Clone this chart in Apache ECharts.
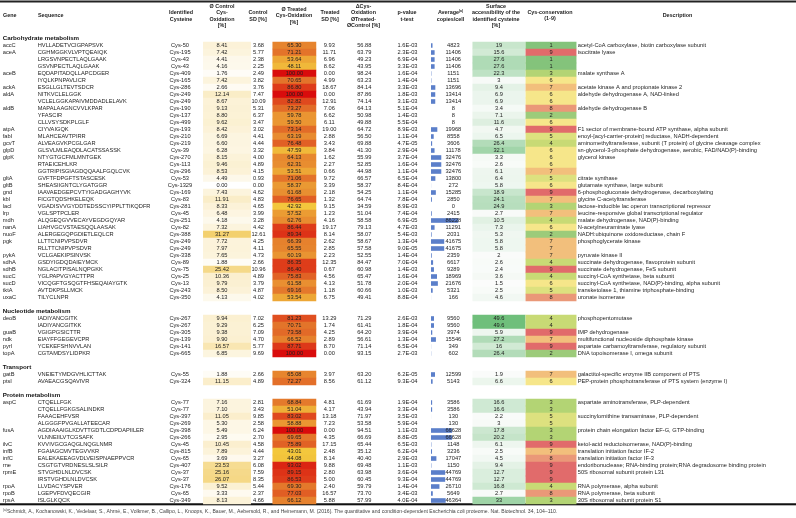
<!DOCTYPE html>
<html><head><meta charset="utf-8">
<script src="https://cdn.jsdelivr.net/npm/echarts@6/dist/echarts.min.js"></script>
<style>html,body{margin:0;padding:0;background:#fff}#c{width:796px;height:518px}</style>
</head><body><div id="c"></div>
<script>
// ---------------- DATA ----------------
const sections = ['Carbohydrate metabolism', 'Nucleotide metabolism', 'Transport', 'Protein metabolism'];
const sectionSizes = [37, 6, 2, 15];
const genes = ['accC','aceA','','','aceB','','ackA','aldA','','aldB','','','atpA','fabI','gcvT','glpD','glpK','','','gltA','gltB','gnd','kbl','lacI','lrp','mdh','nanA','nuoF','pgk','','pykA','sdhA','sdhB','sucC','sucD','tktA','uxaC',
  'deoB','','guaB','ndk','pyrI','topA',
  'gatB','ptsI',
  'aspC','','','','fusA','','ilvC','infB','infC','rne','rpmE','','rpoA','rpoB','rpsA'];
const sequences = ['HVLLADETVCIGPAPSVK','CGHMGGKVLVPTQEAIQK','LRGSVNPECTLAQLGAAK','GSVNPECTLAQLGAAK','EQDAPITADQLLAPCDGER','IYQLKPNPAVLICR','ESGLLGLTEVTSDCR','NITKVCLELGGK','VCLELGGKAPAIVMDDADLELAVK','MAPALAAGNCVVLKPAR','YFASCIR','CLLVSYSDKPLGLF','CIYVAIGQK','MLAHCEAVTPIRR','ALVEAGVKPCGLGAR','GLSVLMLEAQDLACATSSASSK','NTYGTGCFMLMNTGEK','RTAEICEHLKR','GGTRIPISGIAGDQQAALFGQLCVK','GVFTFDPGFTSTASCESK','SHEASIIGNTCLYGATGGR','IAAVAEDGEPCVTYIGADGAGHYVK','FICGTQDSHKELEQK','VGADISVVGYDDTEDSSCYIPPLTTIKQDFR','VGLSPTPCLER','ALQGEQGVVECAYVEGDGQYAR','LIAHVGCVSTAESQQLAASAK','ALERGEGQPGDIETLEQLCR','LLTTCNIPVPSDVR','RLLTTCNIPVPSDVR','VCLGAEKIPSINVSK','GSDYIGDQDAIEYMCK','NGLACITPISALNQPGKK','YGLPAPVGYACTTPR','VICQGFTGSQGTFHSEQAIAYGTK','AVTDKPSLLMCK','TILYCLNPR',
  'IADIYANCGITK','IADIYANCGITKK','VGIGPGSICTTR','EIAYFFGEGEVCPR','YCEKEFSHNVVLAN','CGTAMDSYLIDPKR',
  'VNEIETYMDGVHLICTTAK','AVAEACGSQAVIVR',
  'CTQELLFGK','CTQELLFGKGSALINDKR','FAAACEHFVSR','ALGGGFPVGALLATEECAR','AGDIAAAIGLKDVTTGDTLCDPDAPIILER','VLNNEIILVTCGSAFK','KVVIVGCGAQGLNQGLNMR','FGAIAGCMVTEGVVKR','EALEKAEEAGVDLVEISPNAEPPVCR','CSGTGTVRDNESLSLSILR','STVGHDLNLDVCSK','IRSTVGHDLNLDVCSK','LLVDACYSPVER','LGEPVFDVQECGIR','ISLGLKQCK'];
const cysteines = ['Cys-50','Cys-195','Cys-43','Cys-43','Cys-409','Cys-165','Cys-286','Cys-249','Cys-249','Cys-190','Cys-137','Cys-499','Cys-193','Cys-210','Cys-219','Cys-39','Cys-270','Cys-113','Cys-296','Cys-53','Cys-1329','Cys-169','Cys-83','Cys-281','Cys-45','Cys-251','Cys-82','Cys-388','Cys-249','Cys-249','Cys-338','Cys-89','Cys-75','Cys-25','Cys-13','Cys-243','Cys-350',
  'Cys-267','Cys-267','Cys-305','Cys-139','Cys-141','Cys-665',
  'Cys-55','Cys-324',
  'Cys-77','Cys-77','Cys-397','Cys-269','Cys-398','Cys-266','Cys-45','Cys-815','Cys-65','Cys-407','Cys-37','Cys-37','Cys-176','Cys-65','Cys-349'];
const ctrlOx = [8.41,7.42,4.41,4.16,1.76,7.42,2.66,12.14,8.67,9.13,8.80,9.62,8.42,6.69,6.60,6.28,8.15,9.46,8.53,4.49,0.00,7.43,11.91,8.33,6.48,4.18,7.32,31.27,7.72,7.97,7.65,1.88,25.42,10.36,9.79,8.50,4.13,
  9.94,9.29,9.38,9.90,16.57,6.85,
  1.88,11.15,
  7.16,7.10,11.05,5.30,5.49,2.95,10.45,7.89,3.69,23.53,25.16,26.07,9.52,3.33,8.13];
const ctrlSD = [3.68,5.77,2.38,2.25,2.49,3.82,3.76,7.47,10.09,5.31,6.37,3.47,3.02,4.41,4.44,3.32,4.00,4.89,4.15,0.93,0.00,4.62,4.83,4.65,3.99,3.28,4.42,12.61,4.25,4.11,4.73,2.66,10.96,4.89,3.79,4.87,4.02,
  7.02,6.25,7.09,4.70,5.77,9.69,
  2.66,4.89,
  2.81,3.43,9.85,2.58,6.24,2.70,4.58,4.44,3.27,6.08,7.59,8.35,5.44,2.37,4.66];
const treatedOx = [65.30,71.21,53.64,48.11,100.00,70.65,86.80,100.00,82.82,73.27,59.78,59.50,73.14,63.19,76.48,47.59,64.13,62.31,53.51,71.06,58.37,61.68,76.65,42.92,57.52,62.76,86.44,89.34,66.39,65.55,60.19,86.35,86.40,75.83,61.58,69.16,53.54,
  81.23,70.71,73.58,66.52,87.71,100.00,
  65.08,72.27,
  68.84,51.04,83.02,58.88,100.00,69.65,75.89,43.01,44.08,93.02,89.15,86.53,69.30,77.03,66.12];
const treatedSD = [9.93,11.71,6.96,8.62,0.00,4.99,18.67,0.00,12.91,7.06,6.62,6.11,19.00,2.88,3.43,3.84,1.62,2.27,0.66,9.72,3.39,2.18,1.32,9.15,1.23,4.16,19.17,8.14,2.62,2.85,2.23,12.35,0.67,4.56,4.13,1.18,6.75,
  13.29,1.74,4.25,2.89,8.70,0.00,
  3.97,8.56,
  4.81,4.17,13.18,7.23,0.00,4.35,17.15,2.48,8.14,9.88,2.80,5.00,2.40,16.57,5.88];
const deltaOx = [56.88,63.79,49.23,43.95,98.24,63.23,84.14,87.86,74.14,64.13,50.98,49.88,64.72,56.50,69.88,41.30,55.99,52.85,44.98,66.57,58.37,54.25,64.74,34.59,51.04,58.58,79.13,58.07,58.67,57.58,52.55,84.47,60.98,65.47,51.78,60.66,49.41,
  71.29,61.41,64.20,56.61,71.14,93.15,
  63.20,61.12,
  61.69,43.94,71.97,53.58,94.51,66.69,65.44,35.12,40.40,69.48,63.98,60.45,59.79,73.70,57.99];
const pValues = ['1.6E-03','2.3E-03','6.9E-04','3.3E-03','1.6E-04','1.4E-04','3.3E-03','1.8E-03','3.1E-03','5.1E-04','1.4E-03','5.5E-04','8.9E-03','1.1E-04','4.7E-05','2.9E-04','3.7E-04','1.6E-04','1.1E-04','6.5E-04','8.4E-04','1.1E-04','7.8E-04','8.9E-03','7.4E-04','6.9E-05','4.7E-03','5.4E-03','1.3E-04','9.0E-05','1.4E-04','7.0E-04','1.4E-03','1.6E-04','2.0E-04','1.0E-03','8.8E-04',
  '2.6E-03','1.8E-04','3.9E-04','1.3E-04','6.5E-04','2.7E-03',
  '6.2E-05','9.3E-04',
  '1.9E-04','3.3E-04','3.5E-03','5.9E-04','1.1E-03','8.8E-05','6.5E-03','6.2E-04','2.9E-03','1.1E-03','3.6E-04','9.3E-04','1.4E-04','3.4E-03','4.0E-04'];
const copies = [4823,11406,11406,11406,1151,1151,13696,13414,13414,8,8,8,19968,8558,3606,11178,32476,32476,32476,13800,272,15285,2850,0,2415,86228,11291,2031,41675,41675,2359,6617,9289,18969,21676,5321,166,
  9560,9560,3974,15546,349,602,
  12599,5143,
  3586,3586,130,130,66628,66628,1148,3236,17047,1150,44769,44769,26710,5649,46364];
const surface = [19,15.6,27.6,27.6,22.3,3,9.4,6.9,6.9,3.4,7.1,11.6,4.7,6.5,26.4,32.1,3.3,2.6,6.1,6.4,5.8,18.9,24.1,24.9,2.7,10.5,7.3,5.3,5.8,5.8,2,2.6,2.4,3.6,1.5,2.5,4.6,
  49.6,49.6,5.9,27.2,16,26.4,
  1.9,6.6,
  16.6,16.6,2.2,3,17.8,20.2,6.1,2.5,4.5,9.4,12.7,12.7,16.8,2.7,33];
const conservation = [1,9,1,1,3,6,7,6,6,8,2,6,9,5,4,6,6,6,7,5,6,9,7,3,7,4,6,2,7,7,7,4,9,4,6,5,8,
  4,4,9,7,9,2,
  7,6,
  3,3,5,5,3,3,9,7,8,9,9,9,4,8,3];
const descriptions = ['acetyl-CoA carboxylase, biotin carboxylase subunit','isocitrate lyase','','','malate synthase A','','acetate kinase A and propionate kinase 2','aldehyde dehydrogenase A, NAD-linked','','aldehyde dehydrogenase B','','','F1 sector of membrane-bound ATP synthase, alpha subunit','enoyl-[acyl-carrier-protein] reductase, NADH-dependent','aminomethyltransferase, subunit (T protein) of glycine cleavage complex','sn-glycerol-3-phosphate dehydrogenase, aerobic, FAD/NAD(P)-binding','glycerol kinase','','','citrate synthase','glutamate synthase, large subunit','6-phosphogluconate dehydrogenase, decarboxylating','glycine C-acetyltransferase','lactose-inducible lac operon transcriptional repressor','leucine-responsive global transcriptional regulator','malate dehydrogenase, NAD(P)-binding','N-acetylneuraminate lyase','NADH:ubiquinone oxidoreductase, chain F','phosphoglycerate kinase','','pyruvate kinase II','succinate dehydrogenase, flavoprotein subunit','succinate dehydrogenase, FeS subunit','succinyl-CoA synthetase, beta subunit','succinyl-CoA synthetase, NAD(P)-binding, alpha subunit','transketolase 1, thiamine triphosphate-binding','uronate isomerase',
  'phosphopentomutase','','IMP dehydrogenase','multifunctional nucleoside diphosphate kinase','aspartate carbamoyltransferase, regulatory subunit','DNA topoisomerase I, omega subunit',
  'galactitol-specific enzyme IIB component of PTS','PEP-protein phosphotransferase of PTS system (enzyme I)',
  'aspartate aminotransferase, PLP-dependent','','succinylornithine transaminase, PLP-dependent','','protein chain elongation factor EF-G, GTP-binding','','ketol-acid reductoisomerase, NAD(P)-binding','translation initiation factor IF-2','translation initiation factor IF-3','endoribonuclease; RNA-binding protein;RNA degradosome binding protein','50S ribosomal subunit protein L31','','RNA polymerase, alpha subunit','RNA polymerase, beta subunit','30S ribosomal subunit protein S1'];
const footnote = 'Schmidt, A., Kochanowski, K., Vedelaar, S., Ahrné, E., Volkmer, B., Callipo, L., Knoops, K., Bauer, M., Aebersold, R., and Heinemann, M. (2016). The quantitative and condition-dependent Escherichia coli proteome. Nat. Biotechnol. 34, 104–110.';

// ---------------- LAYOUT ----------------
const FONT = "'Liberation Sans', Arial, sans-serif";
const L = {
  top: 35, rowH: 7,
  gene: [3, 30], seq: [38, 125], cys: [165, 30],
  ctrl: [203.3, 47.4], ctrlTxt: [210, 24], ctrlSD: [251, 15],
  treated: [272.7, 43.3], treatedSD: [320, 18.7], delta: [350, 28.6],
  pval: [394, 27], copiesBar: [431, 28.5], copiesTxt: [441, 24.6],
  surface: [472.7, 52.5], cons: [525.8, 50.4], desc: [578, 215]
};
const DATA_FS = 5.7, TXT = '#1e1e1e';

// build row indices (section header + blank separators)
const rowOf = [], sectionRow = [];
let r = 0;
sectionSizes.forEach((n, s) => {
  if (s > 0) r++;
  sectionRow.push(r); r++;
  for (let k = 0; k < n; k++) { rowOf.push(r); r++; }
});
const nRows = r;
const rowCats = Array.from({length: nRows}, (_, i) => 'r' + i);

const grids = [], xAxes = [], yAxes = [], series = [], visualMaps = [];
function addGrid(col, valueAxisMax) {
  const gi = grids.length;
  grids.push({left: col[0], width: col[1], top: L.top, height: nRows * L.rowH});
  if (valueAxisMax) xAxes.push({gridIndex: gi, type: 'value', min: 0, max: valueAxisMax, show: false});
  else xAxes.push({gridIndex: gi, type: 'category', data: ['c'], show: false});
  yAxes.push({gridIndex: gi, type: 'category', data: rowCats, inverse: true, show: false});
  return gi;
}
function textCol(col, texts, align, extra) {
  const gi = addGrid(col);
  series.push(Object.assign({
    type: 'heatmap', xAxisIndex: gi, yAxisIndex: gi, silent: true,
    data: texts.map((t, i) => [0, rowOf[i], i]),
    itemStyle: {color: 'rgba(0,0,0,0)'},
    label: {show: true, position: align === 'left' ? 'insideLeft' : 'inside', distance: 0,
      color: TXT, fontSize: DATA_FS, fontFamily: FONT,
      formatter: p => texts[p.dataIndex]}
  }, extra || {}));
}
function colorCol(col, values, fmt, vmin, vmax, colors, showLabel) {
  const gi = addGrid(col);
  const si = series.length;
  series.push({
    type: 'heatmap', xAxisIndex: gi, yAxisIndex: gi, silent: true,
    data: values.map((v, i) => [0, rowOf[i], v]),
    label: {show: showLabel, position: 'inside', color: TXT, fontSize: DATA_FS, fontFamily: FONT,
      formatter: p => fmt(p.value[2])}
  });
  visualMaps.push({type: 'continuous', show: false, seriesIndex: si, dimension: 2,
    min: vmin, max: vmax, inRange: {color: colors}});
}
const f2 = v => v.toFixed(2);

// section headers
(function () {
  const gi = addGrid(L.gene);
  series.push({type: 'heatmap', xAxisIndex: gi, yAxisIndex: gi, silent: true,
    data: sections.map((s, i) => [0, sectionRow[i], i]),
    itemStyle: {color: 'rgba(0,0,0,0)'},
    label: {show: true, position: 'insideLeft', distance: 0, color: '#111', fontSize: 6.2,
      fontWeight: 'bold', fontFamily: FONT, formatter: p => sections[p.dataIndex]}});
})();
textCol(L.gene, genes, 'left');
textCol(L.seq, sequences, 'left');
textCol(L.cys, cysteines, 'center');
colorCol(L.ctrl, ctrlOx, f2, 0, 31.27, ['#ffffff', '#f3d06e'], false);
textCol(L.ctrlTxt, ctrlOx.map(f2), 'center');
textCol(L.ctrlSD, ctrlSD.map(f2), 'center');
colorCol(L.treated, treatedOx, f2, 42.92, 100, ['#f3c73d', '#e3722a', '#d90c0c'], true);
textCol(L.treatedSD, treatedSD.map(f2), 'center');
textCol(L.delta, deltaOx.map(f2), 'center');
textCol(L.pval, pValues, 'center');
(function () {
  const gi = addGrid(L.copiesBar, 90000);
  const barData = new Array(nRows).fill('-');
  copies.forEach((v, i) => { barData[rowOf[i]] = v; });
  series.push({type: 'bar', xAxisIndex: gi, yAxisIndex: gi, silent: true, data: barData,
    barWidth: 4.6, itemStyle: {color: '#5b7fca'}});
})();
textCol(L.copiesTxt, copies.map(String), 'center');
colorCol(L.surface, surface, v => String(v), 1.5, 49.6, ['#fbfcfb', '#6fbf7b'], true);
colorCol(L.cons, conservation, v => String(v), 1, 9,
  ['#84c37b', '#9ccb7a', '#b3d474', '#c8da75', '#dde17f', '#f6e68a', '#f2bf7c', '#ea9878', '#e16b6b'], true);
textCol(L.desc, descriptions, 'left');

// ---------------- HEADER / RULES / FOOTNOTE ----------------
const HF = 5.4;
function hdr(x, text, align, y) {
  return {type: 'text', x: x, y: y || 16, silent: true, z: 10,
    style: {text: text, align: align || 'center', verticalAlign: 'middle', fill: '#222',
      fontSize: HF, fontWeight: 'bold', fontFamily: FONT, lineHeight: 6.6,
      rich: {sup: {fontSize: 3.4, fontWeight: 'bold', verticalAlign: 'top', fill: '#222'},
             n: {fontSize: HF, fontWeight: 'bold', fill: '#222'}}}};
}
const graphic = [
  {type: 'rect', shape: {x: 0, y: 0.6, width: 796, height: 2}, style: {fill: '#222'}, silent: true},
  {type: 'rect', shape: {x: 0, y: 503.3, width: 796, height: 1.6}, style: {fill: '#111'}, silent: true},
  {type: 'rect', shape: {x: 0, y: 505.5, width: 796, height: 0.6}, style: {fill: '#666'}, silent: true},
  hdr(3, 'Gene', 'left', 15.6),
  hdr(38, 'Sequence', 'left', 15.6),
  hdr(181, 'Identified\nCysteine'),
  hdr(222, 'Ø Control\nCys-\nOxidation\n[%]'),
  hdr(258, 'Control\nSD [%]'),
  hdr(294, 'Ø Treated\nCys-Oxidation\n[%]'),
  hdr(330, 'Treated\nSD [%]'),
  hdr(363.5, 'ΔCys-\nOxidation\nØTreated-\nØControl [%]'),
  hdr(407, 'p-value\nt-test'),
  hdr(450.5, '{n|Average}{sup|(a)}\n{n|copies/cell}'),
  hdr(496, 'Surface\naccessibility of the\nidentified cysteine\n[%]'),
  hdr(550, 'Cys-conservation\n(1-9)', 'center', 15.7),
  hdr(677.5, 'Description', 'center', 15.7),
  {type: 'text', x: 3, y: 511.5, silent: true,
    style: {text: '{s|(a)}{t|' + footnote + '}', verticalAlign: 'middle', align: 'left',
      rich: {s: {fontSize: 3.2, verticalAlign: 'top', fill: '#444', fontFamily: FONT},
             t: {fontSize: 5.1, fill: '#444', fontFamily: FONT}}}}
];

const chart = echarts.init(document.getElementById('c'), null, {renderer: 'canvas'});
chart.setOption({
  animation: false,
  backgroundColor: '#ffffff',
  grid: grids, xAxis: xAxes, yAxis: yAxes,
  visualMap: visualMaps,
  series: series,
  graphic: graphic
});
</script>
</body></html>
